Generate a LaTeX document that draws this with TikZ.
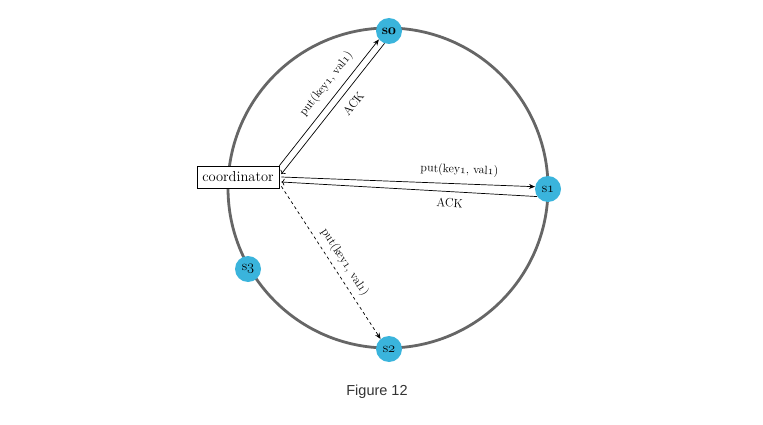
\documentclass[tikz,border=0pt]{standalone}
\usepackage{fontspec}
\newfontfamily\figfont{Liberation Sans}
\definecolor{RingGray}{HTML}{666666}
\definecolor{ServerBlue}{HTML}{3AB4DC}
\definecolor{CaptionGray}{HTML}{333333}
\usetikzlibrary{calc,arrows.meta}
% old-style digits as in the figure
\newcommand{\osn}[1]{{\usefont{OML}{cmm}{m}{it}#1}}
\newcommand{\osnb}[1]{{\usefont{OML}{cmm}{b}{it}#1}}

\begin{document}
\begin{tikzpicture}[x=1pt,y=1pt,
    server/.style={circle, fill=ServerBlue, minimum size=26pt, inner sep=0pt, font=\fontsize{14}{14}\selectfont},
    msg/.style={-{Stealth[length=6pt,width=5pt]}, line width=0.7pt},
    lbl/.style={sloped, font=\fontsize{12}{12}\selectfont}]
    \useasboundingbox (0,0) rectangle (763,424);

    % ring
    \draw[RingGray, line width=2.8pt] (388,236) circle[radius=160pt];

    \node[server] (s0) at (389,393) {\textbf{s}\osnb{0}};
    \node[server] (s1) at (548,235) {s\osn{1}};
    \node[server] (s2) at (389,75) {s\osn{2}};
    \node[server] (s3) at (248,155) {s\osn{3}};

    \node[draw, fill=white, line width=0.7pt, minimum width=82pt, minimum height=22pt, inner sep=0pt,
          font=\fontsize{14.5}{14.5}\selectfont] (coord) at (238,247) {coordinator};

    % requests and replies
    \draw[msg] (coord.north east) -- (s0.-140)
        node[lbl, pos=0.58, above=4pt] {put(key\osn{1}, val\osn{1})};
    \draw[msg, <-] ($(coord.east)+(2,3)$) -- (s0.-110)
        node[lbl, pos=0.6, below=5pt] {ACK};
    \draw[msg] ($(coord.east)+(2,0)$) -- (s1.170)
        node[lbl, pos=0.7, above=4pt] {put(key\osn{1}, val\osn{1})};
    \draw[msg, <-] ($(coord.east)+(2,-5)$) -- (s1.-145)
        node[lbl, pos=0.66, below=3pt] {ACK};
    \draw[msg, dashed] ($(coord.south east)+(2,2)$) -- (s2.130)
        node[lbl, pos=0.54, above=2pt] {put(key\osn{1}, val\osn{1})};

    \node[font=\figfont\fontsize{14.5}{14.5}\selectfont, text=CaptionGray] (caption) at (377,32) {Figure 12};
\end{tikzpicture}
\end{document}
